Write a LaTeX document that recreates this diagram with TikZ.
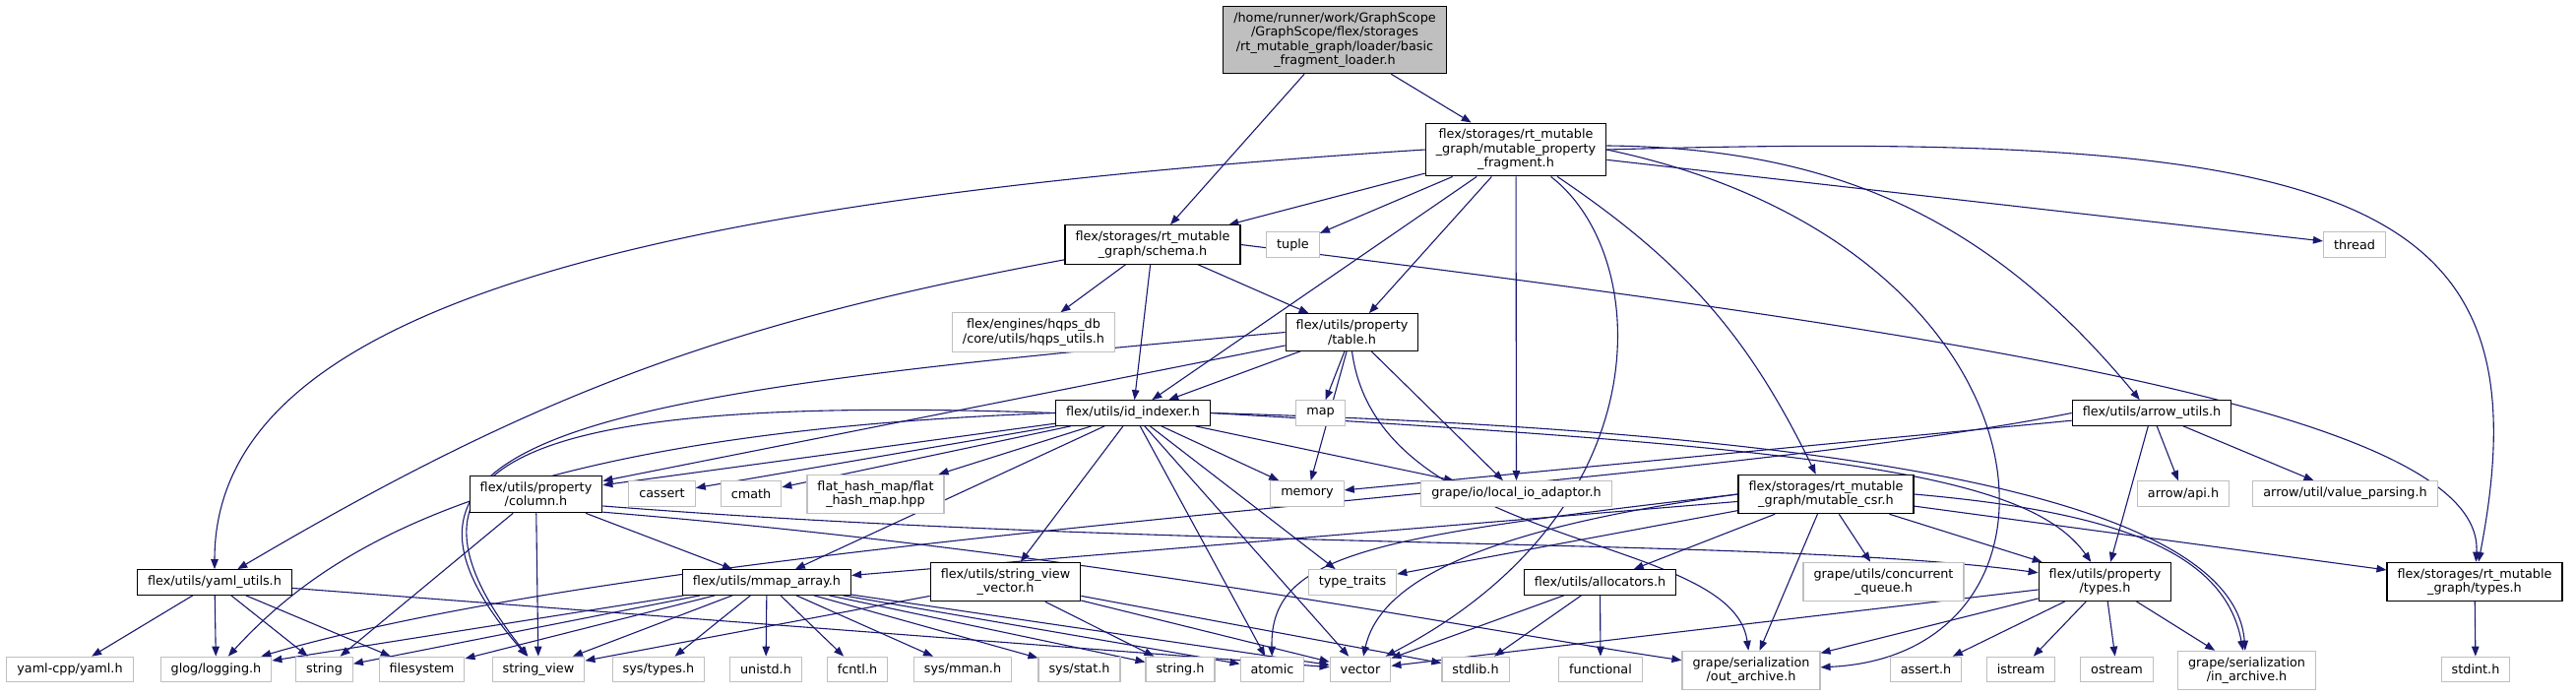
\documentclass[tikz,border=0pt]{standalone}
\usepackage{fontspec}
\setmainfont{DejaVu Sans}
\usetikzlibrary{arrows.meta,backgrounds}
\definecolor{edgeblue}{HTML}{191970}
\definecolor{sysgray}{HTML}{BFBFBF}

\begin{document}
\begin{tikzpicture}[
  x=1pt, y=-1pt,
  every node/.style={font=\fontsize{12.8}{14.5}\selectfont, align=center},
  incbox/.style={draw=black, line width=1.2pt, fill=white, inner xsep=10.5pt,
                 inner ysep=6pt, minimum height=25.5pt},
  sysbox/.style={incbox, draw=sysgray},
  rootbox/.style={incbox, fill=sysgray},
  arrow/.style={-{Triangle[length=10pt,width=7.5pt]}, line width=1.1pt, draw=edgeblue}
]
\useasboundingbox (0,0) rectangle (2617,707);

% Root file
\node[rootbox] (root) at (1356, 40.5) {/home/runner/work/GraphScope\\/GraphScope/flex/storages\\/rt\_mutable\_graph/loader/basic\\\_fragment\_loader.h};

% Fragment and schema
\node[incbox] (mpf) at (1540, 152) {flex/storages/rt\_mutable\\\_graph/mutable\_property\\\_fragment.h};
\node[incbox] (schema) at (1171, 248.5) {flex/storages/rt\_mutable\\\_graph/schema.h};
\node[sysbox] (tuple) at (1313.5, 248.5) {tuple};
\node[sysbox] (thread) at (2392, 248.5) {thread};

% Table and indexer
\node[sysbox] (hqps) at (1050, 337.5) {flex/engines/hqps\_db\\/core/utils/hqps\_utils.h};
\node[incbox] (table) at (1373.5, 337.5) {flex/utils/property\\/table.h};
\node[incbox] (idx) at (1151, 419.5) {flex/utils/id\_indexer.h};
\node[sysbox] (map) at (1341.5, 419.5) {map};
\node[incbox] (arrowu) at (2186, 419.5) {flex/utils/arrow\_utils.h};

% Middle row
\node[incbox] (column) at (544.5, 502) {flex/utils/property\\/column.h};
\node[sysbox] (cassert) at (672.5, 501.5) {cassert};
\node[sysbox] (cmath) at (763, 501.5) {cmath};
\node[sysbox] (flathash) at (889.5, 502) {flat\_hash\_map/flat\\\_hash\_map.hpp};
\node[sysbox] (memory) at (1328, 501.5) {memory};
\node[sysbox] (localio) at (1540.5, 501.5) {grape/io/local\_io\_adaptor.h};
\node[incbox] (csr) at (1855, 502) {flex/storages/rt\_mutable\\\_graph/mutable\_csr.h};
\node[sysbox] (arrowapi) at (2218, 501.5) {arrow/api.h};
\node[sysbox] (valparse) at (2382.5, 501.5) {arrow/util/value\_parsing.h};

% Lower row
\node[incbox] (yaml) at (218, 591.5) {flex/utils/yaml\_utils.h};
\node[incbox] (mmap) at (779, 591.5) {flex/utils/mmap\_array.h};
\node[incbox] (svv) at (1021.5, 591) {flex/utils/string\_view\\\_vector.h};
\node[sysbox] (typetraits) at (1374, 591.5) {type\_traits};
\node[incbox] (alloc) at (1625.5, 591.5) {flex/utils/allocators.h};
\node[sysbox] (concq) at (1913.5, 591) {grape/utils/concurrent\\\_queue.h};
\node[incbox] (ptypes) at (2138.5, 591) {flex/utils/property\\/types.h};
\node[incbox] (rttypes) at (2514, 591) {flex/storages/rt\_mutable\\\_graph/types.h};

% System headers
\node[sysbox] (yamlcpp) at (71, 680) {yaml-cpp/yaml.h};
\node[sysbox] (glog) at (219.5, 680) {glog/logging.h};
\node[sysbox] (string) at (329.5, 680) {string};
\node[sysbox] (filesystem) at (428.5, 680) {filesystem};
\node[sysbox] (stringview) at (547, 680) {string\_view};
\node[sysbox] (systypes) at (669, 680) {sys/types.h};
\node[sysbox] (unistd) at (778, 680) {unistd.h};
\node[sysbox] (fcntl) at (871, 680) {fcntl.h};
\node[sysbox] (sysmman) at (978, 680) {sys/mman.h};
\node[sysbox] (sysstat) at (1096.5, 680) {sys/stat.h};
\node[sysbox] (stringh) at (1199, 680) {string.h};
\node[sysbox] (atomic) at (1292.5, 680) {atomic};
\node[sysbox] (vector) at (1382, 680) {vector};
\node[sysbox] (stdlib) at (1499, 680) {stdlib.h};
\node[sysbox] (functional) at (1626, 680) {functional};
\node[sysbox] (outarch) at (1779, 681) {grape/serialization\\/out\_archive.h};
\node[sysbox] (asserth) at (1956.5, 680) {assert.h};
\node[sysbox] (istream) at (2053, 680) {istream};
\node[sysbox] (ostream) at (2150.5, 680) {ostream};
\node[sysbox] (inarch) at (2282.5, 681) {grape/serialization\\/in\_archive.h};
\node[sysbox] (stdint) at (2515, 680) {stdint.h};

\begin{scope}[on background layer]
% Root includes
\draw[arrow] (root) -- (schema);
\draw[arrow] (root) -- (mpf);

% mutable_property_fragment.h
\draw[arrow] (mpf) -- (schema);
\draw[arrow] (mpf.west) .. controls (620,205) and (218,320) .. (yaml.north);
\draw[arrow] (mpf) -- (tuple);
\draw[arrow] (mpf) -- (idx);
\draw[arrow] (mpf) -- (table);
\draw[arrow] (mpf) -- (localio);
\draw[arrow] (mpf) .. controls (1680,260) and (1690,520) .. (vector);
\draw[arrow] (mpf) to[bend left=15] (csr);
\draw[arrow] (mpf.east) .. controls (2100,250) and (2130,665) .. (outarch);
\draw[arrow] (mpf) to[bend left=25] (arrowu);
\draw[arrow] (mpf) -- (thread);
\draw[arrow] (mpf.east) .. controls (2400,130) and (2590,200) .. (rttypes);

% schema.h
\draw[arrow] (schema) -- (hqps);
\draw[arrow] (schema) -- (idx);
\draw[arrow] (schema) -- (table);
\draw[arrow] (schema) to[bend right=10] (yaml);
\draw[arrow] (schema.east) .. controls (2000,340) and (2525,420) .. (rttypes);

% table.h
\draw[arrow] (table) -- (map);
\draw[arrow] (table) -- (memory);
\draw[arrow] (table) -- (localio);
\draw[arrow] (table) -- (column);
\draw[arrow] (table) -- (idx);
\draw[arrow] (table.west) .. controls (600,400) and (340,440) .. (stringview);
\draw[arrow] (table.south) .. controls (1400,560) and (1760,540) .. (outarch);

% id_indexer.h
\draw[arrow] (idx) -- (column);
\draw[arrow] (idx.west) .. controls (500,440) and (330,560) .. (glog);
\draw[arrow] (idx.west) .. controls (520,400) and (380,470) .. (stringview);
\draw[arrow] (idx) -- (cassert);
\draw[arrow] (idx) -- (cmath);
\draw[arrow] (idx) -- (flathash);
\draw[arrow] (idx) -- (mmap);
\draw[arrow] (idx) -- (svv);
\draw[arrow] (idx) -- (memory);
\draw[arrow] (idx) -- (typetraits);
\draw[arrow] (idx) -- (vector);
\draw[arrow] (idx) -- (atomic);
\draw[arrow] (idx) -- (localio);
\draw[arrow] (idx.east) .. controls (1850,455) and (2060,480) .. (ptypes);
\draw[arrow] (idx.east) .. controls (1950,440) and (2270,520) .. (inarch);

% column.h
\draw[arrow] (column) -- (string);
\draw[arrow] (column) -- (stringview);
\draw[arrow] (column) -- (mmap);
\draw[arrow] (column.-10) .. controls (1200,560) and (1800,545) .. (ptypes);
\draw[arrow] (column.-15) .. controls (1100,560) and (1500,640) .. (outarch);

% yaml_utils.h
\draw[arrow] (yaml) -- (yamlcpp);
\draw[arrow] (yaml) -- (glog);
\draw[arrow] (yaml) -- (string);
\draw[arrow] (yaml) -- (filesystem);
\draw[arrow] (yaml) -- (vector);

% mmap_array.h
\draw[arrow] (mmap) -- (glog);
\draw[arrow] (mmap) -- (string);
\draw[arrow] (mmap) -- (filesystem);
\draw[arrow] (mmap) -- (stringview);
\draw[arrow] (mmap) -- (systypes);
\draw[arrow] (mmap) -- (unistd);
\draw[arrow] (mmap) -- (fcntl);
\draw[arrow] (mmap) -- (sysmman);
\draw[arrow] (mmap) -- (sysstat);
\draw[arrow] (mmap) -- (stringh);
\draw[arrow] (mmap) -- (atomic);
\draw[arrow] (mmap) -- (vector);

% string_view_vector.h
\draw[arrow] (svv) -- (stringview);
\draw[arrow] (svv) -- (stringh);
\draw[arrow] (svv) -- (vector);
\draw[arrow] (svv) -- (stdlib);

% mutable_csr.h
\draw[arrow] (csr) -- (alloc);
\draw[arrow] (csr) -- (concq);
\draw[arrow] (csr) -- (outarch);
\draw[arrow] (csr) -- (ptypes);
\draw[arrow] (csr) -- (rttypes);
\draw[arrow] (csr) -- (typetraits);
\draw[arrow] (csr) -- (mmap);
\draw[arrow] (csr.west) .. controls (1480,540) and (1400,600) .. (vector);
\draw[arrow] (csr.west) .. controls (1400,545) and (1290,560) .. (atomic);
\draw[arrow] (csr.east) .. controls (2150,520) and (2260,560) .. (inarch);

% allocators.h
\draw[arrow] (alloc) -- (vector);
\draw[arrow] (alloc) -- (stdlib);
\draw[arrow] (alloc) -- (functional);

% arrow_utils.h
\draw[arrow] (arrowu) -- (arrowapi);
\draw[arrow] (arrowu) -- (valparse);
\draw[arrow] (arrowu) -- (ptypes);
\draw[arrow] (arrowu) -- (memory);
\draw[arrow] (arrowu.west) .. controls (1700,500) and (700,540) .. (glog);

% property/types.h
\draw[arrow] (ptypes) -- (asserth);
\draw[arrow] (ptypes) -- (istream);
\draw[arrow] (ptypes) -- (ostream);
\draw[arrow] (ptypes) -- (inarch);
\draw[arrow] (ptypes) -- (outarch);
\draw[arrow] (ptypes) -- (vector);

% rt_mutable_graph/types.h
\draw[arrow] (rttypes) -- (stdint);
\end{scope}

\end{tikzpicture}
\end{document}
